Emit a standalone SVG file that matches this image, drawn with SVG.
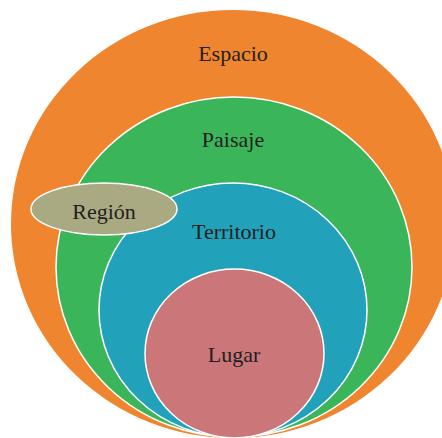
<svg xmlns="http://www.w3.org/2000/svg" width="442" height="438" viewBox="0 0 442 438">
<style>
.lbl{font-family:"Liberation Serif","DejaVu Serif",serif;font-size:22px;fill:#231f20;text-anchor:middle}
.ring{stroke:#ffffff;stroke-width:1.5}
</style>
<rect width="442" height="438" fill="#ffffff"/>
<g id="espacio">
<ellipse cx="233" cy="224" rx="222" ry="214" fill="#f0852f"/>
<text class="lbl" x="233" y="61">Espacio</text>
</g>
<g id="paisaje">
<ellipse class="ring" cx="234" cy="267" rx="178" ry="170" fill="#3bb55a"/>
<text class="lbl" x="233" y="147">Paisaje</text>
</g>
<g id="territorio">
<ellipse class="ring" cx="233" cy="310" rx="134" ry="127" fill="#22a1bb"/>
<text class="lbl" x="234" y="239">Territorio</text>
</g>
<g id="lugar">
<ellipse class="ring" cx="234.5" cy="353.5" rx="89.5" ry="84.5" fill="#cb7679"/>
<text class="lbl" x="234" y="362">Lugar</text>
</g>
<g id="region">
<ellipse class="ring" cx="104" cy="209" rx="73" ry="26" fill="#a9a982"/>
<text class="lbl" x="104" y="219">Región</text>
</g>
<g id="connectors"></g>
</svg>
